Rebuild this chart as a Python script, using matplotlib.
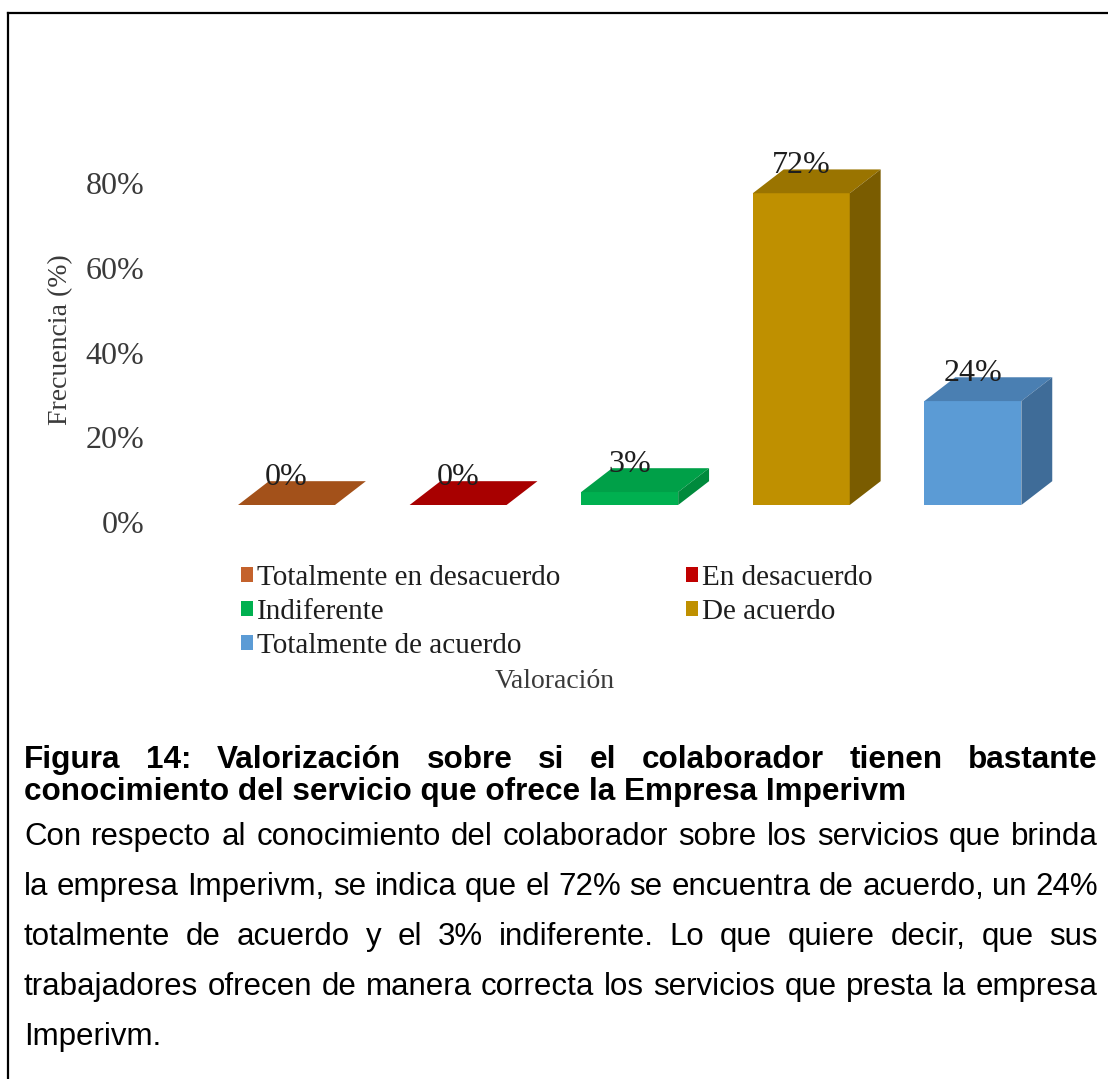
import matplotlib.pyplot as plt
from matplotlib.patches import Polygon
from matplotlib.lines import Line2D

W, H = 1108, 1079

categorias = ['Totalmente en desacuerdo', 'En desacuerdo', 'Indiferente',
              'De acuerdo', 'Totalmente de acuerdo']
valores = [0, 0, 3, 72, 24]
etiquetas = ['0%', '0%', '3%', '72%', '24%']
ticks_y = [0, 20, 40, 60, 80]

# cara frontal, tapa y lateral de cada barra
frente = ['#C4622C', '#C00000', '#00B050', '#BF9000', '#5B9BD5']
tapa = ['#A3511A', '#A80000', '#00A048', '#9A7400', '#4A7FB2']
lado = ['#8A4210', '#8A0000', '#008A3C', '#7A5C00', '#3F6C98']

titulo = ['Figura 14: Valorización sobre si el colaborador tienen bastante',
          'conocimiento del servicio que ofrece la Empresa Imperivm']
parrafo = ['Con respecto al conocimiento del colaborador sobre los servicios que brinda',
           'la empresa Imperivm, se indica que el 72% se encuentra de acuerdo, un 24%',
           'totalmente de acuerdo y el 3% indiferente. Lo que quiere decir, que sus',
           'trabajadores ofrecen de manera correcta los servicios que presta la empresa',
           'Imperivm.']

serif = 'Liberation Serif'
sans = 'Liberation Sans'


def rect(l, t, r, b):
    return [l / W, 1 - b / H, (r - l) / W, (b - t) / H]


fig = plt.figure(figsize=(W / 100, H / 100), dpi=100)
fig.patch.set_facecolor('white')

# marco de la pagina
fig.add_artist(Line2D([8 / W, 1], [1 - 13 / H, 1 - 13 / H], color='black', lw=1.6))
fig.add_artist(Line2D([8 / W, 8 / W], [0, 1 - 13 / H], color='black', lw=1.6))

# eje de la pared (etiquetas del eje y)
pared = fig.add_axes(rect(150, 130, 1090, 540))
pared.set_ylim(-(540 - 522) / 4.2375, (522 - 130) / 4.2375)
pared.set_yticks(ticks_y)
pared.set_yticklabels([f'{t}%' for t in ticks_y], family=serif, fontsize=23, color='#3a3a3a')
pared.set_xticks([])
pared.tick_params(axis='y', length=0, pad=4)
for s in pared.spines.values():
    s.set_visible(False)
pared.patch.set_visible(False)

ax = fig.add_axes(rect(150, 130, 1090, 540))
ax.patch.set_visible(False)
ax.axis('off')
ax.set_xlim(-0.7955, 4.6825)
ax.set_ylim(-(540 - 505) / 4.33, (505 - 130) / 4.33)

w = 0.565
dx = 0.18
dy = 5.5

barras = []
for i, v in enumerate(valores):
    b = ax.bar(i, v, width=w, color=frente[i], label=categorias[i], zorder=2)
    barras.append(b)
    x0, x1 = i - w / 2, i + w / 2
    ax.add_patch(Polygon([(x0, v), (x1, v), (x1 + dx, v + dy), (x0 + dx, v + dy)],
                         closed=True, facecolor=tapa[i], edgecolor='none', zorder=3))
    if v > 0:
        ax.add_patch(Polygon([(x1, 0), (x1 + dx, dy), (x1 + dx, v + dy), (x1, v)],
                             closed=True, facecolor=lado[i], edgecolor='none', zorder=3))
    ax.annotate(etiquetas[i], (i, v + dy), xytext=(0, -4), textcoords='offset pixels',
                ha='center', va='baseline', family=serif, fontsize=23,
                color='#1e1e1e', zorder=4)

orden = [0, 2, 4, 1, 3]
fig.legend([barras[k] for k in orden], [categorias[k] for k in orden], ncol=2,
           loc='center', bbox_to_anchor=(557 / W, 1 - 612 / H), frameon=False,
           prop=dict(family=serif, size=21), handlelength=0.4, handleheight=0.4,
           handletextpad=0.15, columnspacing=4.3, labelspacing=0.28,
           labelcolor='#1e1e1e')

fig.text(61 / W, 1 - 340 / H, 'Frecuencia (%)', rotation=90, ha='center', va='center',
         family=serif, fontsize=20, color='#3a3a3a')
fig.text(555 / W, 1 - 682 / H, 'Valoración', ha='center', va='center',
         family=serif, fontsize=20, color='#3a3a3a')

# pie de figura con lineas justificadas
renderer = fig.canvas.get_renderer()
X0, X1 = 24, 1098


def linea(texto, y, justificar, **kw):
    if not justificar:
        fig.text(X0 / W, 1 - y / H, texto, va='center', ha='left', **kw)
        return
    palabras = texto.split()
    objs = [fig.text(0, 1 - y / H, p, va='center', ha='left', **kw) for p in palabras]
    anchos = [o.get_window_extent(renderer).width for o in objs]
    hueco = (X1 - X0 - sum(anchos)) / (len(objs) - 1)
    x = X0
    for o, a in zip(objs, anchos):
        o.set_x(x / W)
        x += a + hueco


linea(titulo[0], 760, True, family=sans, fontsize=22.7, weight='bold', color='black')
linea(titulo[1], 792, False, family=sans, fontsize=22.7, weight='bold', color='black')
for k, t in enumerate(parrafo):
    linea(t, 837 + 50 * k, k < len(parrafo) - 1, family=sans, fontsize=22.5, color='black')

fig.savefig('out.png', dpi=100, facecolor='white')
